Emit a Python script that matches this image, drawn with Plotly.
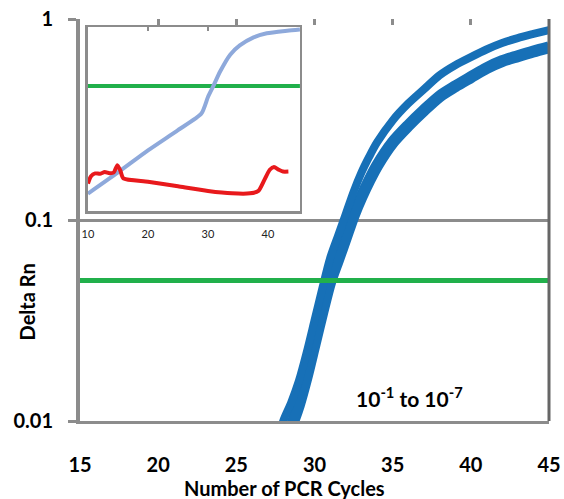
import plotly.graph_objects as go

# ---------------- data ----------------
cycles = [27.5, 28, 28.5, 29, 29.5, 30, 30.5, 31, 31.5, 32, 32.5, 33, 33.5, 34,
          35, 36, 37, 38, 39, 40, 41, 42, 43, 44, 45]
upper_curve = [0.00724, 0.0100, 0.0123, 0.0158, 0.0219, 0.0316, 0.0457, 0.0646,
               0.0832, 0.107, 0.138, 0.172, 0.2065, 0.243, 0.313, 0.380, 0.447,
               0.525, 0.589, 0.646, 0.705, 0.759, 0.804, 0.843, 0.881]
lower_curve = [0.00550, 0.00759, 0.00933, 0.0120, 0.0166, 0.0240, 0.0347, 0.0490,
               0.0631, 0.0813, 0.105, 0.130, 0.157, 0.186, 0.243, 0.295, 0.351,
               0.412, 0.462, 0.513, 0.569, 0.617, 0.653, 0.689, 0.723]
threshold = 0.05
main_x_range = [15, 45]
main_xticks = [15, 20, 25, 30, 35, 40, 45]
main_top_ticks = [20, 25, 30, 35, 40]
main_yticks = [0.01, 0.1, 1]
main_yticklabels = ["0.01", "0.1", "1"]

inset_blue_x = [10, 15, 20, 25, 28.9, 30, 30.9, 32, 33.7, 35.3, 37.6, 39.8, 43.2, 45.33]
inset_blue_y = [0.095, 0.21, 0.33, 0.44, 0.53, 0.62, 0.68, 0.757, 0.85, 0.90, 0.944,
                0.966, 0.98, 0.987]
inset_red_x = [10, 10.5, 11.2, 12.0, 12.8, 13.6, 14.3, 14.9, 15.4, 15.9, 20, 25, 30,
               34, 37, 38.4, 39.4, 40.3, 41.0, 41.8, 42.5, 43.4]
inset_red_y = [0.15, 0.19, 0.205, 0.203, 0.212, 0.206, 0.21, 0.25, 0.22, 0.178, 0.16,
               0.135, 0.11, 0.097, 0.097, 0.11, 0.17, 0.225, 0.24, 0.225, 0.215, 0.215]
inset_threshold = 0.68
inset_x_range = [10, 45.33]
inset_xticks = [10, 20, 30, 40]
inset_top_ticks = [20, 30]

annotation_text = "10<sup>-1</sup> to 10<sup>-7</sup>"
x_title = "Number of PCR Cycles"
y_title = "Delta Rn"

# ---------------- style ----------------
BLUE = "#1770B7"
GREEN = "#21B04B"
LIGHTBLUE = "#8EA9DB"
RED = "#E8191C"
GRAY = "#8C8C8C"
FONT = "Lato"

fig = go.Figure()

# main band
fig.add_trace(go.Scatter(x=cycles, y=lower_curve, mode="lines",
                         line=dict(color=BLUE, width=12, shape="spline", smoothing=0.8),
                         hoverinfo="skip", showlegend=False))
fig.add_trace(go.Scatter(x=cycles, y=upper_curve, mode="lines",
                         line=dict(color=BLUE, width=8, shape="spline", smoothing=0.8),
                         hoverinfo="skip", showlegend=False))
# threshold
fig.add_trace(go.Scatter(x=main_x_range, y=[threshold, threshold], mode="lines",
                         line=dict(color=GREEN, width=5), hoverinfo="skip",
                         showlegend=False))
# helper trace for the top tick axis
fig.add_trace(go.Scatter(x=main_x_range, y=[threshold, threshold], mode="lines",
                         line=dict(width=0), xaxis="x2", yaxis="y",
                         hoverinfo="skip", showlegend=False))

# inset
fig.add_trace(go.Scatter(x=inset_x_range, y=[inset_threshold, inset_threshold],
                         mode="lines", line=dict(color=GREEN, width=4),
                         xaxis="x3", yaxis="y3", hoverinfo="skip", showlegend=False))
fig.add_trace(go.Scatter(x=inset_blue_x, y=inset_blue_y, mode="lines",
                         line=dict(color=LIGHTBLUE, width=4, shape="spline", smoothing=0.6),
                         xaxis="x3", yaxis="y3", hoverinfo="skip", showlegend=False))
fig.add_trace(go.Scatter(x=inset_red_x, y=inset_red_y, mode="lines",
                         line=dict(color=RED, width=4, shape="spline", smoothing=0.6),
                         xaxis="x3", yaxis="y3", hoverinfo="skip", showlegend=False))
fig.add_trace(go.Scatter(x=inset_x_range, y=[inset_threshold, inset_threshold],
                         mode="lines", line=dict(width=0),
                         xaxis="x4", yaxis="y3", hoverinfo="skip", showlegend=False))

fig.update_layout(
    width=564, height=499,
    margin=dict(l=80, r=15, t=19, b=78, autoexpand=False),
    paper_bgcolor="white", plot_bgcolor="white",
    font=dict(family=FONT, color="black"),
    xaxis=dict(domain=[0, 1], range=main_x_range, tickvals=main_xticks,
               ticks="", showline=True, linecolor=GRAY, linewidth=3,
               showgrid=False, zeroline=False, ticklabelstandoff=24, automargin=False,
               tickfont=dict(family=FONT, size=20, color="black", weight="bold")),
    xaxis2=dict(overlaying="x", side="top", anchor="y", range=main_x_range,
                tickvals=main_top_ticks, ticks="inside", ticklen=6, tickwidth=3,
                tickcolor=GRAY, showticklabels=False, showline=False,
                showgrid=False, zeroline=False, automargin=False),
    yaxis=dict(type="log", range=[-2, 0], tickvals=main_yticks,
               ticktext=main_yticklabels, ticks="outside", ticklen=8, tickwidth=3,
               tickcolor=GRAY, showgrid=True, gridcolor=GRAY, gridwidth=3,
               showline=True, linecolor=GRAY, linewidth=4, zeroline=False,
               ticklabelstandoff=11, automargin=False,
               tickfont=dict(family=FONT, size=20, color="black", weight="bold")),
    xaxis3=dict(domain=[0.017, 0.469], anchor="y3", range=inset_x_range,
                tickvals=inset_xticks, ticks="", showline=True, mirror=True,
                linecolor=GRAY, linewidth=2.5, showgrid=False, zeroline=False,
                ticklabelstandoff=11, automargin=False,
                tickfont=dict(family=FONT, size=11, color="#222222")),
    xaxis4=dict(overlaying="x3", side="top", anchor="y3", range=inset_x_range,
                tickvals=inset_top_ticks, ticks="inside", ticklen=4, tickwidth=2,
                tickcolor=GRAY, showticklabels=False, showline=False,
                showgrid=False, zeroline=False, automargin=False),
    yaxis3=dict(domain=[0.522, 0.980], anchor="x3", range=[0, 1],
                showticklabels=False, ticks="", showline=True, mirror=True,
                linecolor=GRAY, linewidth=2.5, showgrid=False, zeroline=False,
                automargin=False),
    shapes=[dict(type="line", xref="x domain", yref="y domain", x0=1, x1=1,
                 y0=0, y1=1, line=dict(color="#666666", width=3))],
    annotations=[
        dict(text=annotation_text, xref="x", yref="paper", x=36.1, y=0.06,
             xanchor="center", yanchor="middle", showarrow=False,
             font=dict(family=FONT, size=21, color="black", weight="bold")),
        dict(text=x_title, xref="paper", yref="paper", x=0.435, y=-0.167,
             xanchor="center", yanchor="middle", showarrow=False,
             font=dict(family=FONT, size=20, color="black", weight="bold")),
        dict(text=y_title, xref="paper", yref="paper", x=-0.113, y=0.295,
             xanchor="center", yanchor="middle", textangle=-90, showarrow=False,
             font=dict(family=FONT, size=20, color="black", weight="bold")),
    ],
)

fig.write_html("out.html", config={"displayModeBar": False, "staticPlot": True},
               post_script="document.body.style.margin='0';document.body.style.overflow='hidden';")
